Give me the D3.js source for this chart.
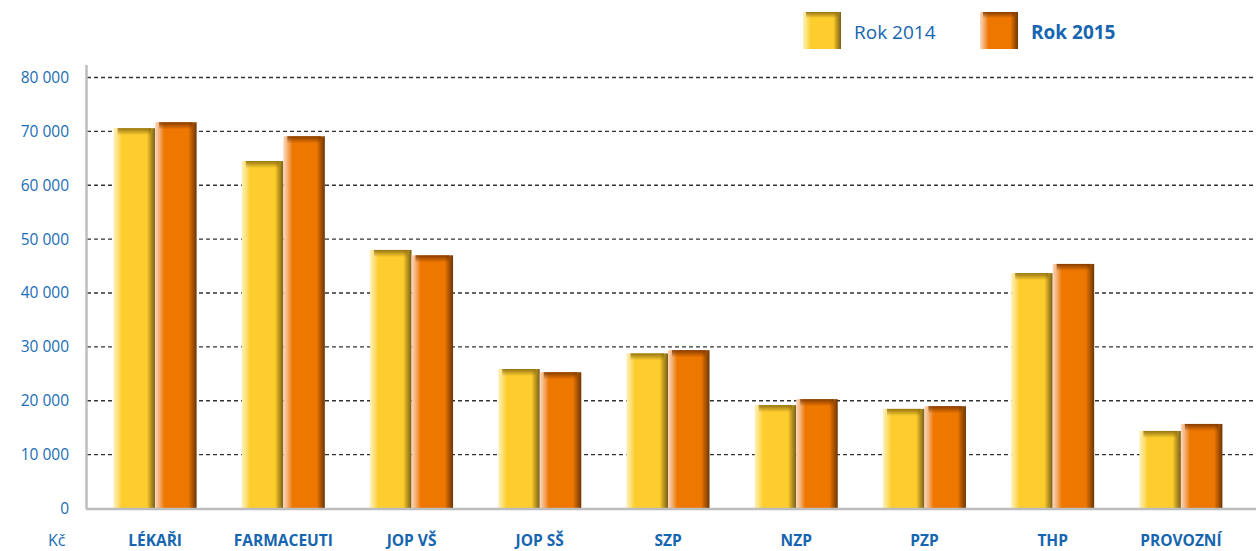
<!DOCTYPE html>
<html>
<head>
<meta charset="utf-8">
<script src="https://cdn.jsdelivr.net/npm/d3@7"></script>
<style>
  body { margin: 0; background: #fff; }
  svg { display: block; font-family: "Open Sans", "Noto Sans", sans-serif; }
</style>
</head>
<body>
<svg width="1256" height="551"></svg>
<script>
// Data
let categories = ["LÉKAŘI", "FARMACEUTI", "JOP VŠ", "JOP SŠ", "SZP", "NZP", "PZP", "THP", "PROVOZNÍ"];
let values2014 = [70500, 64400, 47900, 25800, 28700, 19100, 18400, 43600, 14300];
let values2015 = [71600, 69000, 46900, 25200, 29300, 20200, 18900, 45300, 15600];
let seriesNames = ["Rok 2014", "Rok 2015"];
let yTicks = [0, 10000, 20000, 30000, 40000, 50000, 60000, 70000, 80000];

let svg = d3.select("svg");
let width = +svg.attr("width");
let height = +svg.attr("height");

let blue = "#1a6db5";

// Scales
let x = d3.scaleBand()
    .domain(categories)
    .range([91, 1245]);

let y = d3.scaleLinear()
    .domain([0, 80000])
    .range([508, 77]);

let barW = 41.5;

// Gradients for the bevelled bars
let defs = svg.append("defs");

function sideGradient(id, stops) {
  let g = defs.append("linearGradient")
      .attr("id", id)
      .attr("x1", 0).attr("x2", 1).attr("y1", 0).attr("y2", 0);
  stops.forEach(s => g.append("stop").attr("offset", s[0]).attr("stop-color", s[1]));
}

sideGradient("side2014", [
  [0, "#fff0b8"], [0.08, "#fee58a"], [0.2, "#fdcd2e"], [0.8, "#fdcd2e"],
  [0.88, "#c89e20"], [1, "#75601a"]
]);
sideGradient("side2015", [
  [0, "#fbd9bc"], [0.1, "#f5b077"], [0.22, "#ee7700"], [0.8, "#ee7700"],
  [0.88, "#b85c00"], [1, "#6e3500"]
]);

function topGradient(id, color) {
  let g = defs.append("linearGradient")
      .attr("id", id)
      .attr("x1", 0).attr("x2", 0).attr("y1", 0).attr("y2", 1);
  g.append("stop").attr("offset", 0).attr("stop-color", color).attr("stop-opacity", 0.9);
  g.append("stop").attr("offset", 1).attr("stop-color", color).attr("stop-opacity", 0);
}
topGradient("top2014", "#8a6a10");
topGradient("top2015", "#7a3500");

// Gridlines
svg.append("g")
  .selectAll("line")
  .data(yTicks.filter(d => d > 0))
  .enter().append("line")
    .attr("x1", 87)
    .attr("x2", 1254)
    .attr("y1", d => y(d) + 0.5)
    .attr("y2", d => y(d) + 0.5)
    .attr("stroke", "#333")
    .attr("stroke-width", 1.3)
    .attr("stroke-dasharray", "4,3");

// Y axis labels
let yAxis = svg.append("g")
    .attr("transform", "translate(69,0)")
    .call(d3.axisLeft(y)
      .tickValues(yTicks)
      .tickSize(0)
      .tickPadding(0)
      .tickFormat(d => d3.format(",")(d).replace(/,/g, " ")));
yAxis.select(".domain").remove();
yAxis.selectAll("text")
    .attr("fill", blue)
    .attr("font-size", 15.5)
    .attr("font-family", "\"Open Sans\", sans-serif")
    .attr("dy", "0.35em");

// Bars
let groups = svg.append("g")
  .selectAll("g")
  .data(categories)
  .enter().append("g")
    .attr("transform", d => "translate(" + (x(d) + x.bandwidth() / 2) + ",0)");

[values2014, values2015].forEach(function(vals, si) {
  let key = si === 0 ? "2014" : "2015";
  let xOff = si === 0 ? -barW : 0;
  groups.append("rect")
    .attr("x", xOff)
    .attr("y", (d, i) => y(vals[i]))
    .attr("width", barW)
    .attr("height", (d, i) => y(0) - y(vals[i]))
    .attr("fill", "url(#side" + key + ")");
  groups.append("rect")
    .attr("x", xOff + 4)
    .attr("y", (d, i) => y(vals[i]))
    .attr("width", barW - 8)
    .attr("height", 7)
    .attr("fill", "url(#top" + key + ")");
});

// Axis lines
svg.append("line")
    .attr("x1", 86.5).attr("x2", 86.5)
    .attr("y1", 65).attr("y2", 509)
    .attr("stroke", "#bdbdbd")
    .attr("stroke-width", 2.5);
svg.append("line")
    .attr("x1", 86).attr("x2", 1256)
    .attr("y1", 509).attr("y2", 509)
    .attr("stroke", "#bdbdbd")
    .attr("stroke-width", 2.5);

// Category labels
svg.append("g")
  .selectAll("text")
  .data(categories)
  .enter().append("text")
    .attr("x", d => x(d) + x.bandwidth() / 2)
    .attr("y", 546)
    .attr("text-anchor", "middle")
    .attr("fill", "#1565b0")
    .attr("font-weight", "bold")
    .attr("font-size", 15.5)
    .text(d => d);

svg.append("text")
    .attr("x", 48)
    .attr("y", 546)
    .attr("fill", blue)
    .attr("font-size", 16)
    .text("Kč");

// Legend
let legend = svg.append("g");
let legendX = [803, 980];
seriesNames.forEach(function(name, i) {
  let key = i === 0 ? "2014" : "2015";
  legend.append("rect")
    .attr("x", legendX[i])
    .attr("y", 12)
    .attr("width", 38)
    .attr("height", 37)
    .attr("fill", "url(#side" + key + ")");
  legend.append("rect")
    .attr("x", legendX[i] + 3)
    .attr("y", 12)
    .attr("width", 32)
    .attr("height", 6)
    .attr("fill", "url(#top" + key + ")");
  legend.append("text")
    .attr("x", legendX[i] + 51)
    .attr("y", 39)
    .attr("fill", "#1565b0")
    .attr("font-size", 19)
    .attr("font-weight", i === 1 ? "bold" : "normal")
    .text(name);
});
</script>
</body>
</html>
